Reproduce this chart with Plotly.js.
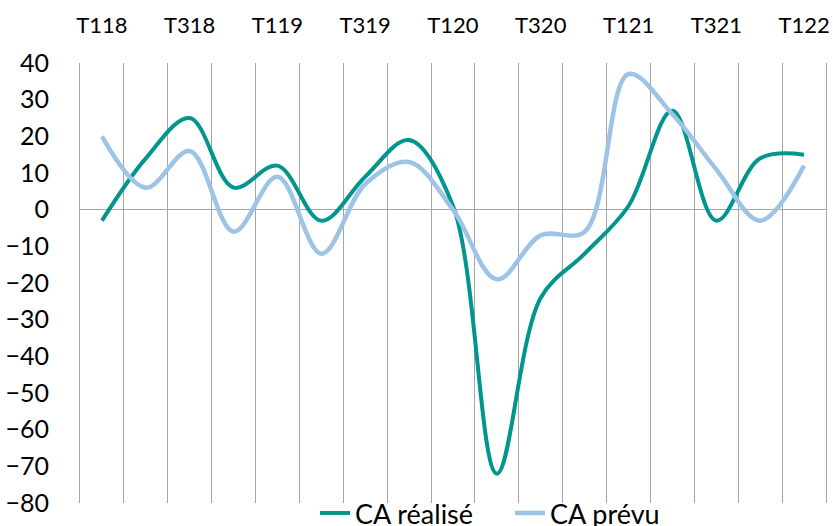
<!DOCTYPE html>
<html>
<head>
<meta charset="utf-8">
<script src="https://cdn.plot.ly/plotly-3.0.1.min.js"></script>
<style>html,body{margin:0;padding:0;background:#fff;}#chart{width:833px;height:526px;}</style>
</head>
<body>
<div id="chart"></div>
<script>
var categories = ["T118","T218","T318","T418","T119","T219","T319","T419","T120","T220","T320","T420","T121","T221","T321","T421","T122"];
var tickLabels = ["T118","","T318","","T119","","T319","","T120","","T320","","T121","","T321","","T122"];
var caRealise = [-3, 14, 25, 6, 12, -3, 9, 19, 1, -72, -24, -12, 1, 27, -3, 14, 15];
var caPrevu = [20, 6, 16, -6, 9, -12, 7, 13, 0, -19, -7, -6, 37, 26, 11, -3, 12];

var font = "Lato, 'Liberation Sans', sans-serif";
var traces = [
  {x: categories, y: caRealise, name: "CA réalisé", type: "scatter", mode: "lines",
   line: {color: "#00968F", width: 4, shape: "spline", smoothing: 1}},
  {x: categories, y: caPrevu, name: "CA prévu", type: "scatter", mode: "lines",
   line: {color: "#9DC3E6", width: 4.5, shape: "spline", smoothing: 1}}
];
var layout = {
  width: 833, height: 526,
  margin: {l: 80, r: 7, t: 63, b: 23, autoexpand: false},
  paper_bgcolor: "#fff", plot_bgcolor: "#fff",
  font: {family: font, color: "#000"},
  showlegend: true,
  legend: {orientation: "h", x: 0.315, xanchor: "left", y: 0.032, yanchor: "top",
           entrywidth: 150, entrywidthmode: "pixels",
           font: {family: font, size: 27, color: "#000"}, bgcolor: "rgba(0,0,0,0)", tracegroupgap: 0},
  xaxis: {type: "category", categoryorder: "array", categoryarray: categories,
          side: "top", tickmode: "array", tickvals: categories, ticktext: tickLabels,
          tickangle: 0, tickson: "boundaries", ticks: "", showgrid: true, gridcolor: "#A6A6A6", gridwidth: 1,
          showline: false, zeroline: false, range: [-0.5, 16.5],
          tickfont: {family: font, size: 22, color: "#000"}, ticklabelstandoff: 25},
  yaxis: {range: [-80, 40], dtick: 10, tick0: 0, showgrid: false, zeroline: true,
          zerolinecolor: "#A6A6A6", zerolinewidth: 1.5, showline: true, mirror: true,
          linecolor: "#A6A6A6", linewidth: 1, ticks: "",
          tickfont: {family: font, size: 25, color: "#000"}, ticklabelstandoff: 25}
};
Plotly.newPlot("chart", traces, layout, {displayModeBar: false, staticPlot: true});
</script>
</body>
</html>
